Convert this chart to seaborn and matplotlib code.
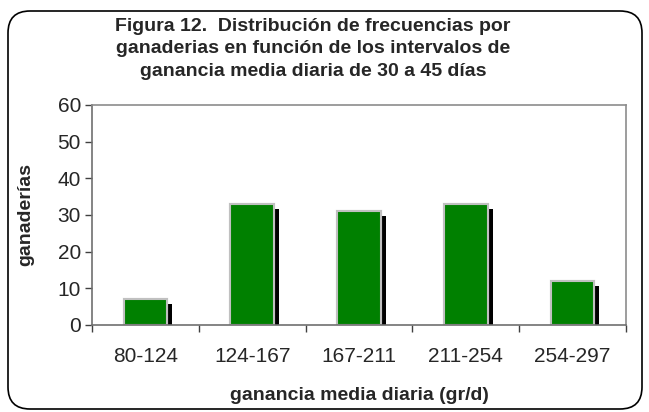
import matplotlib
matplotlib.use("Agg")
import matplotlib.pyplot as plt
import matplotlib.patheffects as pe
from matplotlib.patches import FancyBboxPatch
from matplotlib.transforms import IdentityTransform
import seaborn as sns
import pandas as pd

# data
intervals = ["80-124", "124-167", "167-211", "211-254", "254-297"]
ganaderias = [7, 33, 31, 33, 12]

df = pd.DataFrame({"intervalo": intervals, "ganaderias": ganaderias})

sns.set_style("white")
plt.rcParams["font.family"] = ["Liberation Sans", "DejaVu Sans"]

fig = plt.figure(figsize=(6.49, 4.12), dpi=100)
ax = fig.add_axes([92 / 649, 1 - 325 / 412, 534 / 649, 220 / 412])

sns.barplot(data=df, x="intervalo", y="ganaderias", ax=ax, color="#008000",
            saturation=1, width=0.41, edgecolor="#c0c0c0", linewidth=1.5)

for bar in ax.patches:
    bar.set_path_effects([
        pe.withSimplePatchShadow(offset=(3.6, -3.6), shadow_rgbFace="black",
                                 alpha=1.0, linewidth=0),
        pe.Normal()])

ax.set_ylim(0, 60)
ax.set_xlim(-0.5, 4.5)
ax.set_yticks(range(0, 61, 10))
ax.tick_params(axis="y", labelsize=15, length=5, width=1, color="#404040",
               left=True, pad=3)
# tick marks between the categories, labels in the middle
ax.set_xticks([i + 0.5 for i in range(-1, 5)], minor=True)
ax.tick_params(axis="x", which="minor", length=5, width=1, color="#404040",
               bottom=True)
ax.tick_params(axis="x", which="major", length=0, labelsize=15, pad=16)

for s in ax.spines.values():
    s.set_color("#8c8c8c")
    s.set_linewidth(1.2)
ax.spines["left"].set_color("#707070")
ax.spines["bottom"].set_color("#707070")

ax.set_xlabel("ganancia media diaria (gr/d)", fontsize=14, fontweight="bold",
              labelpad=15)
ax.set_ylabel("ganaderías", fontsize=14, fontweight="bold", labelpad=17)

fig.text(313 / 649, 1 - 18 / 412,
         "Figura 12.  Distribución de frecuencias por\n"
         "ganaderias en función de los intervalos de\n"
         "ganancia media diaria de 30 a 45 días",
         ha="center", va="top", fontsize=14, fontweight="bold", linespacing=1.42)

# rounded frame around the whole chart
frame = FancyBboxPatch((8, 3), 634, 398, boxstyle="round,pad=0,rounding_size=22",
                       transform=IdentityTransform(), facecolor="none",
                       edgecolor="black", linewidth=1.2)
fig.add_artist(frame)

fig.savefig("out.png", dpi=100)
